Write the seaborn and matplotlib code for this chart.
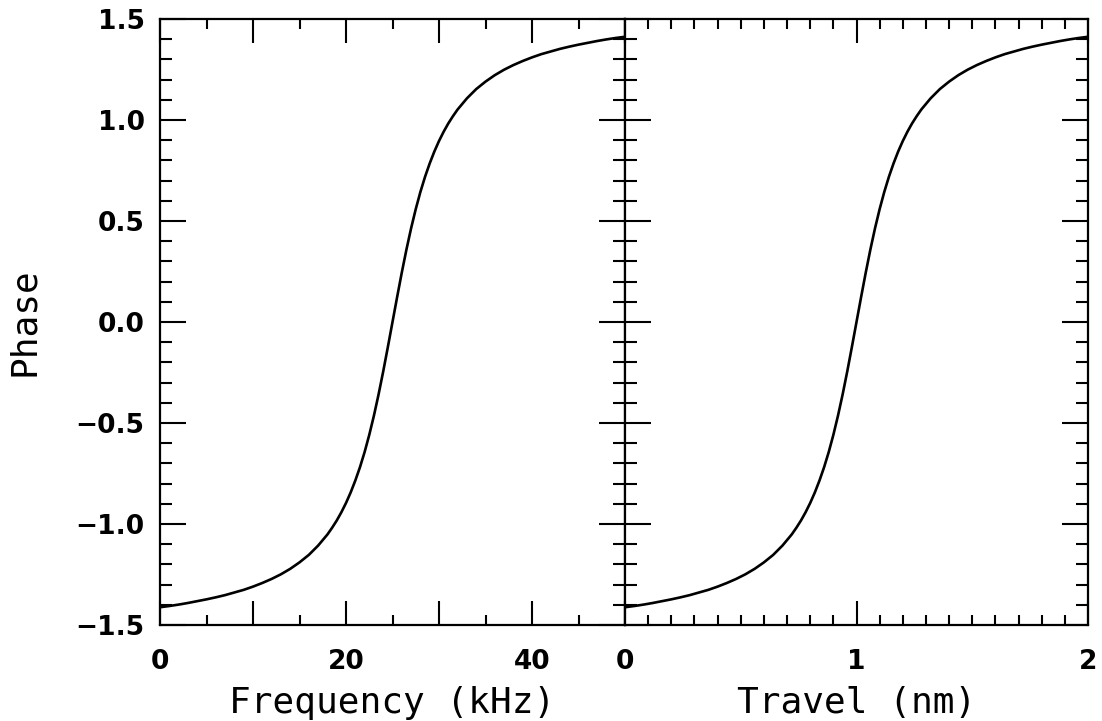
import numpy as np
import pandas as pd
import matplotlib
matplotlib.use("Agg")
import matplotlib.pyplot as plt
import seaborn as sns
from matplotlib.ticker import MultipleLocator, FixedLocator, FixedFormatter, FuncFormatter

# Values
freq_khz = [0, 1, 2, 3, 4, 5, 6, 7, 8, 9, 10, 11, 12, 13, 14, 15, 16, 17,
            18, 18.5, 19, 19.5, 20, 20.5, 21, 21.5, 22, 22.5, 23, 23.5, 24, 24.5,
            25,
            25.5, 26, 26.5, 27, 27.5, 28, 28.5, 29, 29.5, 30, 30.5, 31, 31.5, 32,
            33, 34, 35, 36, 37, 38, 39, 40, 41, 42, 43, 44, 45, 46, 47, 48, 49, 50]
travel_nm = [0, 0.04, 0.08, 0.12, 0.16, 0.2, 0.24, 0.28, 0.32, 0.36, 0.4, 0.44, 0.48,
             0.52, 0.56, 0.6, 0.64, 0.68,
             0.72, 0.74, 0.76, 0.78, 0.8, 0.82, 0.84, 0.86, 0.88, 0.9, 0.92, 0.94, 0.96, 0.98,
             1.0,
             1.02, 1.04, 1.06, 1.08, 1.1, 1.12, 1.14, 1.16, 1.18, 1.2, 1.22, 1.24, 1.26, 1.28,
             1.32, 1.36, 1.4, 1.44, 1.48, 1.52, 1.56, 1.6, 1.64, 1.68, 1.72, 1.76, 1.8,
             1.84, 1.88, 1.92, 1.96, 2.0]
phase = [-1.412, -1.406, -1.399, -1.391, -1.382, -1.373, -1.363, -1.352, -1.339, -1.326,
         -1.310, -1.292, -1.272, -1.249, -1.222, -1.190, -1.153, -1.107,
         -1.052, -1.019, -0.983, -0.942, -0.896, -0.844, -0.785, -0.719, -0.644, -0.559,
         -0.464, -0.359, -0.245, -0.124,
         0.0,
         0.124, 0.245, 0.359, 0.464, 0.559, 0.644, 0.719, 0.785, 0.844, 0.896, 0.942,
         0.983, 1.019, 1.052,
         1.107, 1.153, 1.190, 1.222, 1.249, 1.272, 1.292, 1.310, 1.326, 1.339, 1.352,
         1.363, 1.373, 1.382, 1.391, 1.399, 1.406, 1.412]

left_ticklabels = ["0", "", "20", "", "40", ""]
right_ticklabels = ["0", "1", "2"]
xlabel_left = "Frequency (kHz)"
xlabel_right = "Travel (nm)"
ylabel = "Phase"

sns.set_style("ticks")
plt.rcParams["font.family"] = ["DejaVu Sans"]
plt.rcParams["text.color"] = "black"
plt.rcParams["axes.labelcolor"] = "black"
plt.rcParams["xtick.color"] = "black"
plt.rcParams["ytick.color"] = "black"

W, H = 1102, 721
fig = plt.figure(figsize=(W / 100, H / 100), dpi=100)
x0, xm, x1 = 160, 625, 1088
yt, yb = 19, 625
axL = fig.add_axes([x0 / W, 1 - yb / H, (xm - x0) / W, (yb - yt) / H])
axR = fig.add_axes([xm / W, 1 - yb / H, (x1 - xm) / W, (yb - yt) / H])

dfL = pd.DataFrame({"x": freq_khz, "y": phase})
dfR = pd.DataFrame({"x": travel_nm, "y": phase})
sns.lineplot(data=dfL, x="x", y="y", ax=axL, color="black", linewidth=1.9, sort=False)
sns.lineplot(data=dfR, x="x", y="y", ax=axR, color="black", linewidth=1.9, sort=False)

for ax in (axL, axR):
    ax.set_ylim(-1.5, 1.5)
    ax.yaxis.set_major_locator(MultipleLocator(0.5))
    ax.yaxis.set_minor_locator(MultipleLocator(0.1))
    for s in ax.spines.values():
        s.set_linewidth(1.6)
        s.set_color("black")
    ax.tick_params(which="both", direction="in", top=True, right=True,
                   left=True, bottom=True, width=1.5, colors="black")
    ax.tick_params(axis="y", which="major", length=19)
    ax.tick_params(axis="y", which="minor", length=8.5)
    ax.tick_params(axis="x", which="major", length=17.5)
    ax.tick_params(axis="x", which="minor", length=7.5)
    ax.tick_params(axis="x", which="major", pad=17, labelsize=19)
    ax.tick_params(axis="y", which="major", pad=11, labelsize=19)

axL.set_xlim(0, 50)
axL.xaxis.set_major_locator(FixedLocator([0, 10, 20, 30, 40, 50]))
axL.xaxis.set_major_formatter(FixedFormatter(left_ticklabels))
axL.xaxis.set_minor_locator(MultipleLocator(5))
axL.yaxis.set_major_formatter(FuncFormatter(
    lambda v, p: ("%.1f" % v).replace("-", "\u2212")))

axR.set_xlim(0, 2)
axR.xaxis.set_major_locator(FixedLocator([0, 1, 2]))
axR.xaxis.set_major_formatter(FixedFormatter(right_ticklabels))
axR.xaxis.set_minor_locator(MultipleLocator(0.1))
axR.tick_params(axis="y", which="both", labelleft=False)

for ax in (axL, axR):
    for lab in ax.get_xticklabels() + ax.get_yticklabels():
        lab.set_fontweight("bold")

lab_font = dict(family="DejaVu Sans Mono", size=26, color="black")
axL.set_xlabel(xlabel_left, labelpad=8, **lab_font)
axR.set_xlabel(xlabel_right, labelpad=8, **lab_font)
axL.set_ylabel(ylabel, labelpad=25, **lab_font)
axR.set_ylabel("")

fig.savefig("out.png", dpi=100, facecolor="white")
